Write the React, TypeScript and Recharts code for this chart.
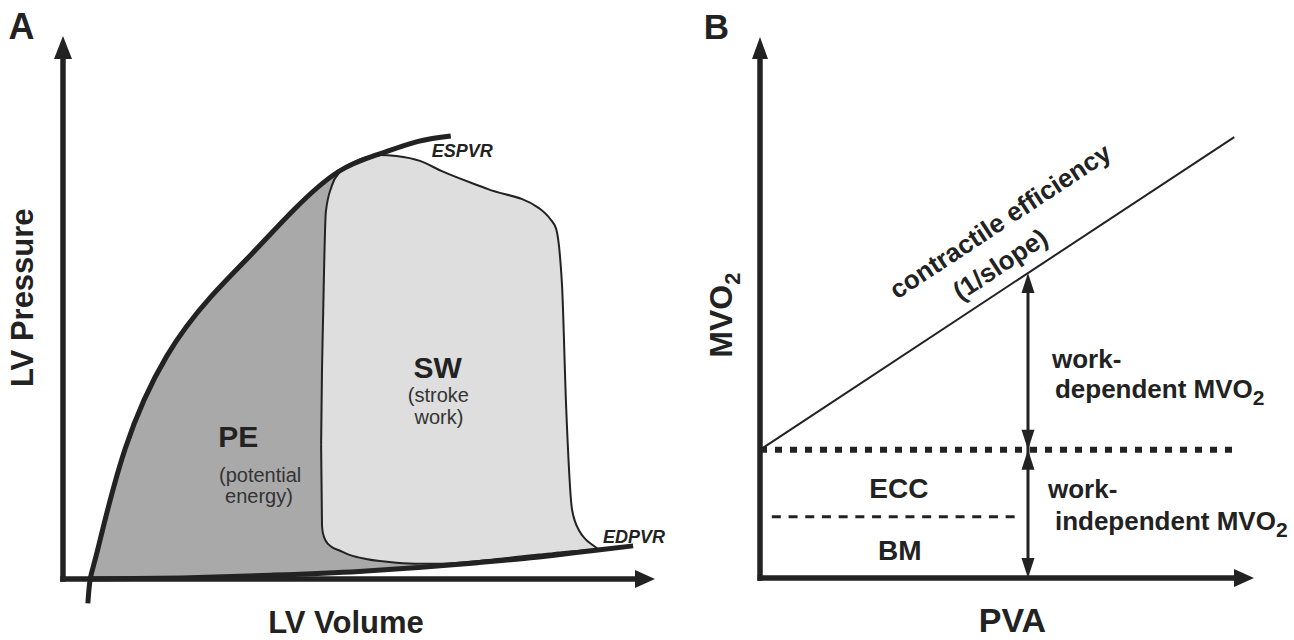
import React from "react"
import { ComposedChart, XAxis, YAxis, Line, Area, ReferenceLine, ReferenceDot } from "recharts"

const INK = "#222222"
const SOFT_INK = "#333333"
const FONT = "'Liberation Sans', Arial, Helvetica, sans-serif"

// Panel A: pressure-volume plane, both axes in arbitrary units (0-100)
const espvrVolume = [4.2, 4.6, 6, 10.5, 17.5, 25, 32, 39, 46.5, 53.5, 60, 65.5]
const espvrPressure = [-4.5, 0, 6, 24, 41, 52, 60, 68, 75, 78.3, 80.6, 81.6]

const edpvrVolume = [4.6, 20, 35, 50, 60, 70, 80, 90, 96.3]
const edpvrPressure = [0, 0.2, 0.7, 1.4, 2.1, 3.0, 4.0, 5.3, 6.1]

// potential energy: EDPVR underneath, ESPVR on top, closing under the loop
const peVolume = [4.6, 6, 10.5, 17.5, 25, 32, 39, 44, 48.5, 54, 60]
const peLow = [0, 0, 0.05, 0.1, 0.25, 0.5, 0.8, 1.0, 1.3, 1.7, 2.1]
const peHigh = [0, 6, 24, 41, 52, 60, 68, 72.5, 76, 40, 2.1]

// PV loop outline as lower / upper pressure at each volume
const loopVolume = [43.6, 43.75, 43.9, 44.4, 45.4, 46.8, 48.5, 51.2, 53.5, 56.3, 60.3, 64.0, 71.8, 80.4, 82.3, 83.3, 84.0, 84.3, 85.0, 86.0, 87.3, 88.2, 89.4, 90.4]
const loopLow = [24.7, 9.9, 8.5, 7.0, 5.9, 5.2, 4.4, 3.7, 3.3, 3.0, 2.8, 2.8, 3.5, 4.5, 4.7, 4.85, 4.9, 4.95, 5.0, 5.1, 5.2, 5.3, 5.4, 5.5]
const loopHigh = [24.7, 38.5, 46.4, 67.6, 72.4, 75.0, 76.4, 77.7, 78.1, 77.9, 77.0, 75.1, 71.8, 68.3, 66.3, 64.5, 58.8, 54.0, 31.5, 12.7, 8.7, 7.4, 6.3, 5.5]

// Panel B: MVO2 against PVA, arbitrary units (0-100)
const pvaPoints = [0, 96]
const mvo2Points = [23.7, 81.5]
const basalMvo2 = 23.7 // work-independent level (dotted)
const bmMvo2 = 11.3 // split between ECC and BM (dashed)
const bmSpan = [2.4, 52.4]
const markerPva = 54.25

const espvr = espvrVolume.map((v, i) => ({ v, p: espvrPressure[i] }))
const edpvr = edpvrVolume.map((v, i) => ({ v, p: edpvrPressure[i] }))
const peData = peVolume.map((v, i) => ({ v, range: [peLow[i], peHigh[i]] }))
const loopData = loopVolume.map((v, i) => ({ v, range: [loopLow[i], loopHigh[i]] }))

const efficiency = pvaPoints.map((u, i) => ({ u, m: mvo2Points[i] }))
const basalLine = pvaPoints.map((u) => ({ u, m: basalMvo2 }))
const bmLine = bmSpan.map((u) => ({ u, m: bmMvo2 }))
const mvo2AtMarker =
  mvo2Points[0] + ((mvo2Points[1] - mvo2Points[0]) * (markerPva - pvaPoints[0])) / (pvaPoints[1] - pvaPoints[0])

// text drawn at a reference point (cx/cy are filled in by ReferenceDot)
const Caption = ({ cx = 0, cy = 0, size = 24, weight = 700, anchor = "middle", angle = 0, italic = false, color = INK, children }: any) => (
  <text
    x={cx}
    y={cy}
    fontSize={size}
    fontWeight={weight}
    fontStyle={italic ? "italic" : "normal"}
    fontFamily={FONT}
    textAnchor={anchor}
    fill={color}
    transform={angle ? `rotate(${angle} ${cx} ${cy})` : undefined}
  >
    {children}
  </text>
)

const Arrowhead = ({ cx = 0, cy = 0, dir = "up", len = 20, wide = 16 }: any) => {
  const h = wide / 2
  let pts = ""
  if (dir === "up") pts = `${cx},${cy} ${cx - h},${cy + len} ${cx + h},${cy + len}`
  else if (dir === "down") pts = `${cx},${cy} ${cx - h},${cy - len} ${cx + h},${cy - len}`
  else pts = `${cx},${cy} ${cx - len},${cy - h} ${cx - len},${cy + h}`
  return <polygon points={pts} fill={INK} />
}

const lineProps = { dot: false, activeDot: false, isAnimationActive: false } as const

function PressureVolumePanel() {
  return (
    <ComposedChart width={680} height={640} margin={{ top: 36, right: 25, bottom: 6.7, left: 63 }}>
      <XAxis type="number" dataKey="v" domain={[0, 100]} hide />
      <YAxis type="number" domain={[-10, 100]} hide />

      <Area data={peData} dataKey="range" type="monotone" fill="#a9a9a9" fillOpacity={1} stroke="none" isAnimationActive={false} />
      <Area data={loopData} dataKey="range" type="monotone" fill="#dedede" fillOpacity={1} stroke={INK} strokeWidth={2} isAnimationActive={false} />
      <Line data={edpvr} dataKey="p" type="monotone" stroke={INK} strokeWidth={5} {...lineProps} />
      <Line data={espvr} dataKey="p" type="natural" stroke={INK} strokeWidth={5} {...lineProps} />

      {/* axes */}
      <ReferenceLine segment={[{ x: 0, y: -0.5 }, { x: 0, y: 96 }]} stroke={INK} strokeWidth={5.5} ifOverflow="visible" />
      <ReferenceLine segment={[{ x: -0.5, y: 0 }, { x: 97, y: 0 }]} stroke={INK} strokeWidth={5.5} ifOverflow="visible" />
      <ReferenceDot x={0} y={100} ifOverflow="visible" shape={<Arrowhead dir="up" len={23} wide={18} />} />
      <ReferenceDot x={100} y={0} ifOverflow="visible" shape={<Arrowhead dir="right" len={20} wide={18} />} />

      <ReferenceDot x={-9.2} y={99.4} ifOverflow="visible" shape={<Caption size={36} anchor="start">A</Caption>} />
      <ReferenceDot x={-5} y={51.8} ifOverflow="visible" shape={<Caption size={31} angle={-90}>LV Pressure</Caption>} />
      <ReferenceDot x={47.8} y={-9.95} ifOverflow="visible" shape={<Caption size={31}>LV Volume</Caption>} />

      <ReferenceDot x={29.6} y={24.3} ifOverflow="visible" shape={<Caption size={30}>PE</Caption>} />
      <ReferenceDot x={33.3} y={17.9} ifOverflow="visible" shape={<Caption size={20} weight={400} color={SOFT_INK}>(potential</Caption>} />
      <ReferenceDot x={33.1} y={14.0} ifOverflow="visible" shape={<Caption size={20} weight={400} color={SOFT_INK}>energy)</Caption>} />

      <ReferenceDot x={63.3} y={37.1} ifOverflow="visible" shape={<Caption size={30}>SW</Caption>} />
      <ReferenceDot x={63.4} y={32.6} ifOverflow="visible" shape={<Caption size={20} weight={400} color={SOFT_INK}>(stroke</Caption>} />
      <ReferenceDot x={63.5} y={28.5} ifOverflow="visible" shape={<Caption size={20} weight={400} color={SOFT_INK}>work)</Caption>} />

      <ReferenceDot x={62.3} y={77.7} ifOverflow="visible" shape={<Caption size={18} italic anchor="start">ESPVR</Caption>} />
      <ReferenceDot x={91.2} y={6.6} ifOverflow="visible" shape={<Caption size={18} italic anchor="start">EDPVR</Caption>} />
    </ComposedChart>
  )
}

function EnergeticsPanel() {
  return (
    <ComposedChart width={614} height={640} margin={{ top: 37, right: 40, bottom: 62, left: 80 }}>
      <XAxis type="number" dataKey="u" domain={[0, 100]} hide />
      <YAxis type="number" domain={[0, 100]} hide />

      <Line data={efficiency} dataKey="m" type="linear" stroke={INK} strokeWidth={2} {...lineProps} />
      <Line data={basalLine} dataKey="m" type="linear" stroke={INK} strokeWidth={6} strokeDasharray="7 8" {...lineProps} />
      <Line data={bmLine} dataKey="m" type="linear" stroke={INK} strokeWidth={3} strokeDasharray="9 7.7" {...lineProps} />

      {/* work-dependent / work-independent double arrows */}
      <ReferenceLine segment={[{ x: markerPva, y: 1.5 }, { x: markerPva, y: mvo2AtMarker - 1.5 }]} stroke={INK} strokeWidth={3} ifOverflow="visible" />
      <ReferenceDot x={markerPva} y={mvo2AtMarker} ifOverflow="visible" shape={<Arrowhead dir="up" len={20} wide={13} />} />
      <ReferenceDot x={markerPva} y={basalMvo2} ifOverflow="visible" shape={<Arrowhead dir="down" len={20} wide={13} />} />
      <ReferenceDot x={markerPva} y={basalMvo2} ifOverflow="visible" shape={<Arrowhead dir="up" len={20} wide={13} />} />
      <ReferenceDot x={markerPva} y={0} ifOverflow="visible" shape={<Arrowhead dir="down" len={20} wide={13} />} />

      {/* axes */}
      <ReferenceLine segment={[{ x: 0, y: -0.5 }, { x: 0, y: 96 }]} stroke={INK} strokeWidth={5.5} ifOverflow="visible" />
      <ReferenceLine segment={[{ x: -0.5, y: 0 }, { x: 96, y: 0 }]} stroke={INK} strokeWidth={5.5} ifOverflow="visible" />
      <ReferenceDot x={0} y={100} ifOverflow="visible" shape={<Arrowhead dir="up" len={22} wide={16} />} />
      <ReferenceDot x={100} y={0} ifOverflow="visible" shape={<Arrowhead dir="right" len={20} wide={18} />} />

      <ReferenceDot x={-11.4} y={99.6} ifOverflow="visible" shape={<Caption size={35} anchor="start">B</Caption>} />
      <ReferenceDot x={-5.67} y={48.6} ifOverflow="visible" shape={
        <Caption size={32} angle={-90}>MVO<tspan dy={8} fontSize={22}>2</tspan></Caption>
      } />
      <ReferenceDot x={51.1} y={-9.9} ifOverflow="visible" shape={<Caption size={34}>PVA</Caption>} />

      <ReferenceDot x={49.6} y={64.6} ifOverflow="visible" shape={<Caption size={26} angle={-33.4}>contractile efficiency</Caption>} />
      <ReferenceDot x={49.6} y={56.6} ifOverflow="visible" shape={<Caption size={26} angle={-33.4}>(1/slope)</Caption>} />

      <ReferenceDot x={59.1} y={38.8} ifOverflow="visible" shape={<Caption size={26} anchor="start">work-</Caption>} />
      <ReferenceDot x={59.7} y={33.3} ifOverflow="visible" shape={
        <Caption size={26} anchor="start">dependent MVO<tspan dy={7} fontSize={21}>2</tspan></Caption>
      } />
      <ReferenceDot x={58.3} y={14.8} ifOverflow="visible" shape={<Caption size={26} anchor="start">work-</Caption>} />
      <ReferenceDot x={59.7} y={8.9} ifOverflow="visible" shape={
        <Caption size={26} anchor="start">independent MVO<tspan dy={7} fontSize={21}>2</tspan></Caption>
      } />

      <ReferenceDot x={28.1} y={14.8} ifOverflow="visible" shape={<Caption size={28}>ECC</Caption>} />
      <ReferenceDot x={28.3} y={3.3} ifOverflow="visible" shape={<Caption size={28}>BM</Caption>} />
    </ComposedChart>
  )
}

export default function App() {
  return (
    <div style={{ position: "absolute", left: 0, top: 0, width: 1294, height: 640, background: "#fff" }}>
      <div style={{ position: "absolute", left: 0, top: 0 }}>
        <PressureVolumePanel />
      </div>
      <div style={{ position: "absolute", left: 680, top: 0 }}>
        <EnergeticsPanel />
      </div>
    </div>
  )
}
